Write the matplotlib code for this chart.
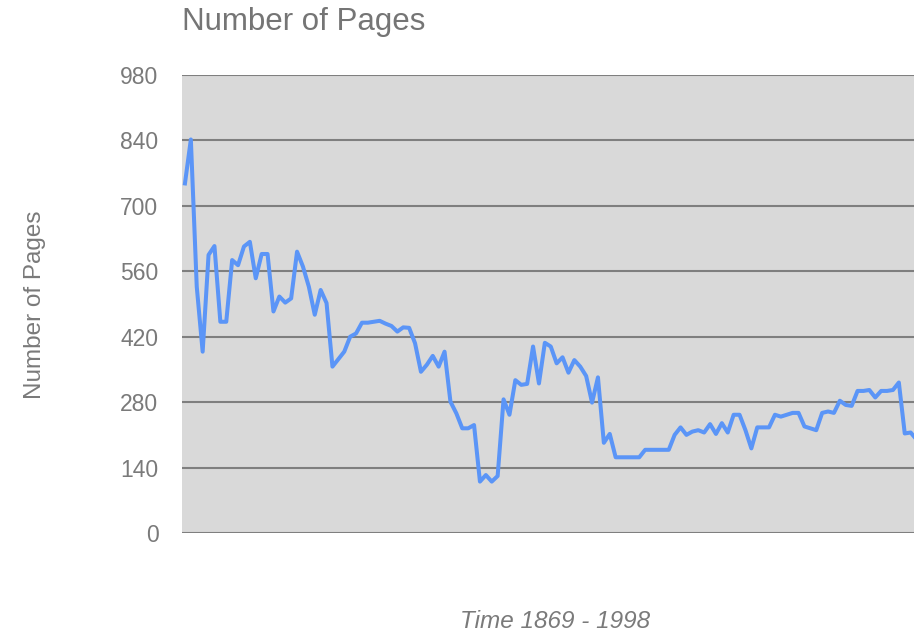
import matplotlib
matplotlib.use("Agg")
import matplotlib.pyplot as plt

years = list(range(1869, 1999))
pages = [748, 842, 527, 388, 595, 614, 452, 452, 584, 573,
         613, 623, 545, 597, 597, 474, 506, 493, 502, 602,
         570, 527, 467, 520, 492, 356, 372, 388, 420, 427,
         450, 450, 452, 454, 448, 443, 431, 440, 439, 406,
         345, 360, 379, 356, 388, 281, 256, 224, 224, 231,
         110, 124, 110, 122, 286, 253, 327, 317, 319, 399,
         320, 407, 399, 363, 376, 343, 370, 356, 336, 279,
         333, 193, 212, 162, 162, 162, 162, 162, 178, 178,
         178, 178, 178, 210, 226, 210, 217, 220, 215, 233,
         212, 235, 215, 253, 253, 220, 181, 226, 226, 226,
         253, 249, 253, 257, 257, 228, 224, 220, 257, 260,
         257, 283, 274, 272, 304, 304, 306, 290, 304, 304,
         306, 322, 213, 215, 200, 205, 210, 205, 215, 210]
yticks = [0, 140, 280, 420, 560, 700, 840, 980]

W, H = 914, 633
fig = plt.figure(figsize=(W / 100, H / 100), dpi=100)
fig.patch.set_facecolor("white")
FONT = ["Liberation Sans", "DejaVu Sans"]

left_px, right_px, top_px, bottom_px = 182, 949, 75, 533
ax = fig.add_axes([left_px / W, (H - bottom_px) / H,
                   (right_px - left_px) / W, (bottom_px - top_px) / H])
ax.set_facecolor("#d9d9d9")
ax.set_xlim(-0.5, len(years) - 0.5)
ax.set_ylim(0, 980)
for t in yticks:
    ax.axhline(t, color="#7f7f7f", lw=1.5, zorder=1)
ax.plot(range(len(years)), pages, color="#5b95f7", lw=2.9, zorder=3,
        solid_joinstyle="round", clip_on=True)
for s in ax.spines.values():
    s.set_visible(False)
ax.set_xticks([])
ax.set_yticks(yticks)
ax.set_yticklabels([str(t) for t in yticks], family=FONT, fontsize=16.5,
                   color="#7a7a7a")
ax.tick_params(axis="y", length=0, pad=17)

fig.text(182 / W, 1 - 22 / H, "Number of Pages", family=FONT, fontsize=22.5,
         color="#757575", ha="left", va="center")
fig.text(35 / W, 1 - 305 / H, "Number of Pages", family=FONT, fontsize=17.5,
         color="#7a7a7a", ha="center", va="center", rotation=90)
fig.text(555 / W, 1 - 622 / H, "Time 1869 - 1998", family=FONT, fontsize=17.5,
         color="#7a7a7a", ha="center", va="center", style="italic")

fig.savefig("out.png", dpi=100)
